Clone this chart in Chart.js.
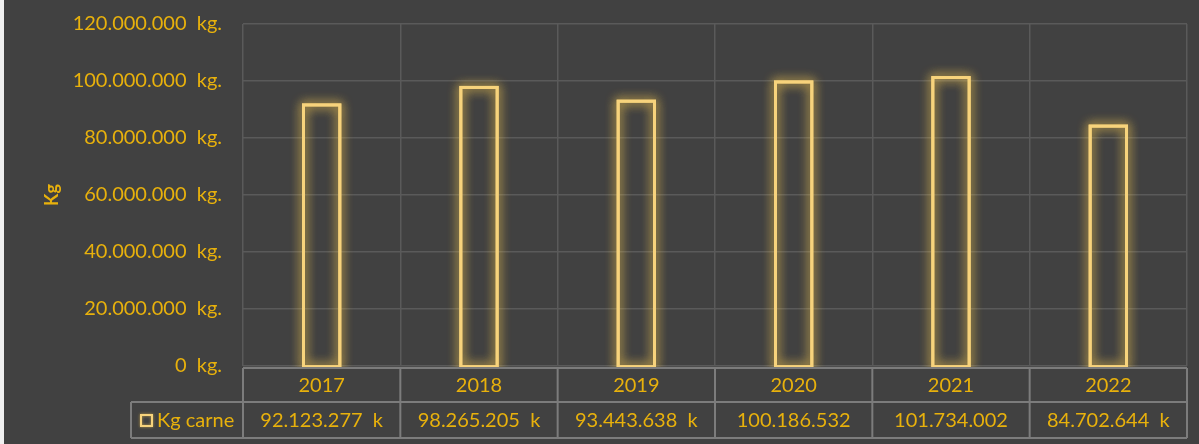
<!DOCTYPE html>
<html>
<head>
<meta charset="utf-8">
<script src="https://cdn.jsdelivr.net/npm/chart.js@4"></script>
<style>
  html, body { margin: 0; padding: 0; background: #414141; }
  #wrap { position: relative; width: 1199px; height: 444px; }
  #edge { position: absolute; left: 0; top: 0; width: 4px; height: 444px; background: #f0f0f0; }
</style>
</head>
<body>
<div id="wrap">
  <canvas id="kgChart" width="1199" height="444"></canvas>
  <div id="edge"></div>
</div>
<script>
// data
const years = ['2017', '2018', '2019', '2020', '2021', '2022'];
const kgCarne = [92123277, 98265205, 93443638, 100186532, 101734002, 84702644];
const seriesName = 'Kg carne';
const yTicks = [0, 20000000, 40000000, 60000000, 80000000, 100000000, 120000000];

const gold = '#E8B10C';
const barLine = '#F7D37C';
const gridCol = '#5a5a5a';
const tableCol = '#7c7c7c';
const font = 'Lato, "Open Sans", sans-serif';

// 92123277 -> 92.123.277
const dots = v => String(Math.round(v)).replace(/\B(?=(\d{3})+(?!\d))/g, '.');

// bars drawn as glowing outlines
const glowBars = {
  id: 'glowBars',
  afterDatasetsDraw(chart) {
    const ctx = chart.ctx;
    chart.getDatasetMeta(0).data.forEach(bar => {
      const { x, y, width, base } = bar.getProps(['x', 'y', 'width', 'base'], true);
      ctx.save();
      ctx.strokeStyle = barLine;
      ctx.lineWidth = 3;
      ctx.shadowColor = 'rgba(245, 200, 80, 0.8)';
      ctx.shadowBlur = 11;
      for (let i = 0; i < 2; i++) {
        ctx.strokeRect(x - width / 2 + 1.5, y + 1.5, width - 3, base - y);
      }
      ctx.restore();
    });
  }
};

// data table under the plot (Excel style)
const dataTable = {
  id: 'dataTable',
  afterDraw(chart) {
    const ctx = chart.ctx;
    const xs = chart.scales.x;
    const area = chart.chartArea;
    const step = xs.width / years.length;
    const top = area.bottom + 2;
    const mid = top + 34;
    const bot = mid + 36;
    const legLeft = 131;

    ctx.save();
    // cover bar bottoms
    ctx.fillStyle = '#414141';
    ctx.fillRect(area.left, top, area.right - area.left, bot - top);

    ctx.strokeStyle = tableCol;
    ctx.lineWidth = 2;
    ctx.beginPath();
    ctx.moveTo(area.left, top); ctx.lineTo(area.right, top);
    ctx.moveTo(legLeft, mid); ctx.lineTo(area.right, mid);
    ctx.moveTo(legLeft, bot); ctx.lineTo(area.right, bot);
    ctx.moveTo(legLeft, mid); ctx.lineTo(legLeft, bot);
    for (let i = 0; i <= years.length; i++) {
      const xx = area.left + i * step;
      ctx.moveTo(xx, top); ctx.lineTo(xx, bot);
    }
    ctx.stroke();

    ctx.fillStyle = gold;
    ctx.font = '20px ' + font;
    ctx.textAlign = 'center';
    ctx.textBaseline = 'middle';
    years.forEach((yr, i) => {
      const cx = xs.getPixelForValue(i);
      ctx.fillText(yr, cx, (top + mid) / 2 + 1);
      const v = kgCarne[i];
      const txt = dots(v) + (v < 100000000 ? '  k' : '');
      ctx.fillText(txt, cx, (mid + bot) / 2 + 1);
    });

    // legend key
    ctx.textAlign = 'left';
    ctx.fillText(seriesName, 157, (mid + bot) / 2 + 1);
    ctx.strokeStyle = barLine;
    ctx.lineWidth = 2;
    ctx.shadowColor = 'rgba(245, 200, 80, 0.7)';
    ctx.shadowBlur = 3;
    ctx.strokeRect(141, (mid + bot) / 2 - 5, 11, 11);
    ctx.restore();
  }
};

new Chart(document.getElementById('kgChart').getContext('2d'), {
  type: 'bar',
  data: {
    labels: years,
    datasets: [{
      label: seriesName,
      data: kgCarne,
      backgroundColor: 'transparent',
      borderWidth: 0,
      barPercentage: 0.25,
      categoryPercentage: 1
    }]
  },
  options: {
    responsive: false,
    animation: false,
    layout: { padding: { left: 0, right: 12, top: 24, bottom: 78 } },
    plugins: {
      legend: { display: false },
      tooltip: { enabled: false }
    },
    scales: {
      x: {
        offset: true,
        grid: { offset: true, color: gridCol, lineWidth: 1.5, drawTicks: false },
        border: { display: false },
        ticks: { display: false },
        afterFit: s => { s.height = 0; }
      },
      y: {
        min: 0,
        max: 120000000,
        afterBuildTicks: s => { s.ticks = yTicks.map(v => ({ value: v })); },
        afterFit: s => { s.width = 243; s.paddingTop = 0; s.paddingBottom = 0; },
        grid: { color: gridCol, lineWidth: 1.5, drawTicks: false },
        border: { display: false },
        ticks: {
          color: gold,
          padding: 21,
          font: { family: font, size: 20 },
          callback: v => dots(v) + '  kg.'
        },
        title: {
          display: true,
          text: 'Kg',
          color: gold,
          font: { family: font, size: 18, weight: 'bold' },
          padding: { top: 41, bottom: 0 }
        }
      }
    }
  },
  plugins: [glowBars, dataTable]
});
</script>
</body>
</html>
